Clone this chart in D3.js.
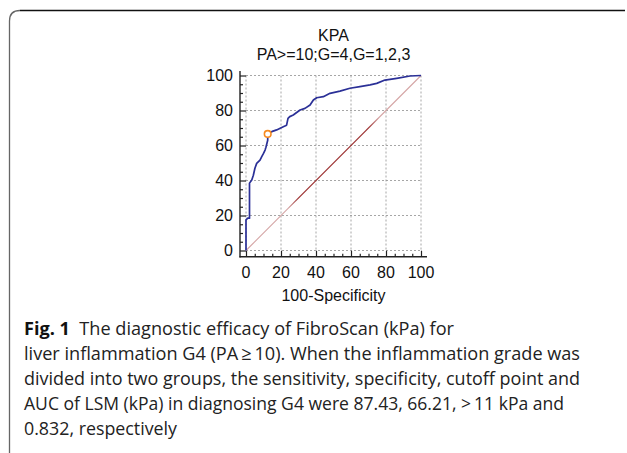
<!DOCTYPE html>
<html><head><meta charset="utf-8">
<script src="https://cdn.jsdelivr.net/npm/d3@7"></script>
<style>body{margin:0;background:#fff;} svg{display:block;}</style>
</head><body>
<svg id="c" width="627" height="453"></svg>
<script>
// ROC curve points: 100-Specificity (x) and Sensitivity (y)
const rocX = [0, 0, 1, 2, 2, 3.3, 4.2, 5.1, 6.1, 8, 9, 10, 10.9, 11.4, 12.4, 12.4, 14.7, 17.5, 21.3, 23.2, 24, 25, 27, 30.9, 33.7, 36.6, 38.5, 40.4, 44.2, 48, 53.7, 59.4, 65.1, 70.9, 74.7, 79.4, 86.1, 93.7, 100];
const rocY = [0, 17.5, 18.5, 18.5, 38.5, 40.3, 43, 47, 49.8, 51.7, 53.6, 55.5, 57.4, 59, 63, 66.6, 67.9, 68.9, 70.7, 71.6, 75.5, 76.5, 77.4, 80.3, 81.2, 83.1, 86, 87.3, 87.9, 89.8, 91.1, 92.7, 93.6, 94.6, 95.5, 97.4, 98.4, 99.7, 100];
const cutoffPoint = [12.4, 66.6];
const tickValues = [0, 20, 40, 60, 80, 100];
const minorTickValues = d3.range(0, 101, 5);
const titleLines = ["KPA", "PA>=10;G=4,G=1,2,3"];
const xAxisTitle = "100-Specificity";
const captionLines = [
  ["Fig. 1", "  The diagnostic efficacy of FibroScan (kPa) for"],
  ["", "liver inflammation G4 (PA\u2009\u2265\u200910). When the inflammation grade was"],
  ["", "divided into two groups, the sensitivity, specificity, cutoff point and"],
  ["", "AUC of LSM (kPa) in diagnosing G4 were 87.43, 66.21, >\u200911 kPa and"],
  ["", "0.832, respectively"]
];
const captionWidths = [430, 556, 556, 540, 153];

const svg = d3.select("#c");
const x = d3.scaleLinear().domain([0, 100]).range([246, 421]);
const y = d3.scaleLinear().domain([0, 100]).range([250.5, 75.5]);
const font = "'Liberation Sans', Arial, sans-serif";

// diagonal gradient
const defs = svg.append("defs");
const grad = defs.append("linearGradient").attr("id", "diag").attr("gradientUnits", "userSpaceOnUse")
  .attr("x1", x(0)).attr("y1", y(0)).attr("x2", x(100)).attr("y2", y(100));
[[0, "#d4a4a4"], [0.24, "#d4a4a4"], [0.3, "#9c3030"], [0.7, "#9c3030"], [0.76, "#d4a4a4"], [1, "#d4a4a4"]]
  .forEach(s => grad.append("stop").attr("offset", s[0]).attr("stop-color", s[1]));

// frame
svg.append("path").attr("d", "M9.5,453 L9.5,21 Q9.5,10.5 20,10.5").attr("fill", "none").attr("stroke", "#666").attr("stroke-width", 1.3);
svg.append("path").attr("d", "M20,10.5 L625,10.5").attr("fill", "none").attr("stroke", "#111").attr("stroke-width", 1.3);

// grid
const g = svg.append("g");
g.selectAll(".gx").data(tickValues).join("line")
  .attr("x1", d => x(d)).attr("x2", d => x(d)).attr("y1", y(100)).attr("y2", y(0))
  .attr("stroke", "#8f8f8f").attr("stroke-width", 0.8).attr("stroke-dasharray", "2,2");
g.selectAll(".gy").data(tickValues).join("line")
  .attr("y1", d => y(d)).attr("y2", d => y(d)).attr("x1", x(0)).attr("x2", x(100))
  .attr("stroke", "#8f8f8f").attr("stroke-width", 0.8).attr("stroke-dasharray", "2,2");

// axes (ticks pointing inward)
const axisY = svg.append("g").attr("transform", "translate(240,0)");
axisY.call(d3.axisRight(y).tickValues(minorTickValues).tickSize(3).tickFormat(""));
axisY.call(g2 => g2.selectAll(".tick line").attr("x2", d => d % 20 === 0 ? 6 : 3));
axisY.select(".domain").remove();
axisY.append("line").attr("x1", 0).attr("x2", 0).attr("y1", 71).attr("y2", 257.5).attr("stroke", "#222").attr("stroke-width", 1.4);
axisY.selectAll(".tick line").attr("stroke", "#222").attr("stroke-width", 1.2);

const axisX = svg.append("g").attr("transform", "translate(0,256.7)");
axisX.call(d3.axisTop(x).tickValues(minorTickValues).tickSize(3).tickFormat(""));
axisX.call(g2 => g2.selectAll(".tick line").attr("y2", d => d % 20 === 0 ? -6 : -3));
axisX.select(".domain").remove();
axisX.append("line").attr("x1", 239.5).attr("x2", 427).attr("y1", 0).attr("y2", 0).attr("stroke", "#222").attr("stroke-width", 1.4);
axisX.selectAll(".tick line").attr("stroke", "#222").attr("stroke-width", 1.2);

// tick labels
svg.selectAll(".yl").data(tickValues).join("text")
  .attr("x", 233).attr("y", d => y(d)).attr("dy", "0.36em").attr("text-anchor", "end")
  .attr("font-family", font).attr("font-size", 16).attr("fill", "#111").text(d => d);
svg.selectAll(".xl").data(tickValues).join("text")
  .attr("x", d => x(d)).attr("y", 278).attr("text-anchor", "middle")
  .attr("font-family", font).attr("font-size", 16).attr("fill", "#111").text(d => d);

// titles
svg.selectAll(".tt").data(titleLines).join("text")
  .attr("x", 333.5).attr("y", (d, i) => 41 + i * 19).attr("text-anchor", "middle")
  .attr("font-family", font).attr("font-size", 16).attr("fill", "#111").text(d => d);
svg.append("text").attr("x", 333.5).attr("y", 301).attr("text-anchor", "middle")
  .attr("font-family", font).attr("font-size", 16).attr("fill", "#111").text(xAxisTitle);

// diagonal reference
svg.append("line").attr("x1", x(0)).attr("y1", y(0)).attr("x2", x(100)).attr("y2", y(100))
  .attr("stroke", "url(#diag)").attr("stroke-width", 1.1);

// ROC curve
const pts = rocX.map((v, i) => [v, rocY[i]]);
svg.append("path").datum(pts)
  .attr("d", d3.line().x(d => x(d[0])).y(d => y(d[1])))
  .attr("fill", "none").attr("stroke", "#2b3097").attr("stroke-width", 1.7).attr("stroke-linejoin", "round");

// cutoff marker
svg.append("circle").attr("cx", x(cutoffPoint[0])).attr("cy", y(cutoffPoint[1])).attr("r", 3.3)
  .attr("fill", "#fff").attr("stroke", "#f68a1f").attr("stroke-width", 1.6);

// caption
const capFont = "'Open Sans', 'Noto Sans', sans-serif";
captionLines.forEach((ln, i) => {
  const t = svg.append("text").attr("x", 24).attr("y", 335 + i * 25)
    .attr("font-family", capFont).attr("font-size", 18.5).attr("fill", "#222")
    .attr("textLength", captionWidths[i]).attr("lengthAdjust", "spacingAndGlyphs")
    .attr("xml:space", "preserve").style("white-space", "pre");
  if (ln[0]) t.append("tspan").attr("font-weight", "bold").attr("fill", "#111").text(ln[0]);
  t.append("tspan").text(ln[1]);
});
</script>
</body></html>
